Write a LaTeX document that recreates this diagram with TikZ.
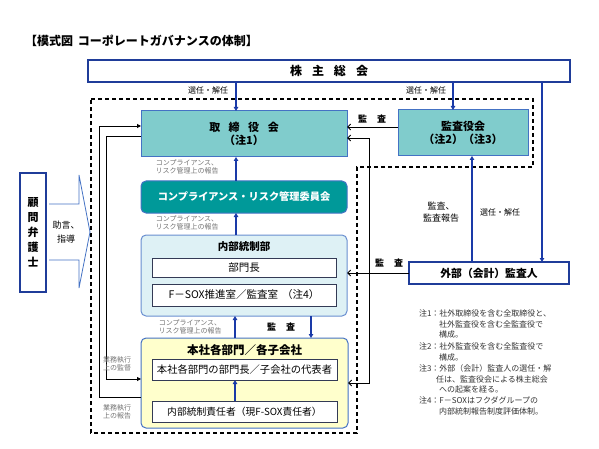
\documentclass[tikz,border=0pt]{standalone}
\usepackage{fontspec}
\setmainfont{Noto Sans CJK JP}
\usetikzlibrary{arrows.meta}
\definecolor{dkblue}{HTML}{1F3C99}
\definecolor{midblue}{HTML}{4472C4}
\definecolor{tealL}{HTML}{80CCCC}
\definecolor{tealD}{HTML}{009999}
\definecolor{cyanL}{HTML}{DEF1F5}
\definecolor{yelL}{HTML}{FFFFCC}
\definecolor{arrblue}{HTML}{1A3AA8}
\definecolor{inframe}{HTML}{333A55}
\begin{document}
\begin{tikzpicture}[x=1pt,y=-1pt,
  every node/.style={inner sep=0pt, outer sep=0pt},
  thickbox/.style={draw=dkblue, line width=2pt, fill=white},
  tealbox/.style={draw=midblue, line width=1pt, fill=tealL},
  inbox/.style={draw=inframe, line width=0.9pt, fill=white},
  barr/.style={draw=arrblue, line width=1.3pt, -{Triangle[length=4pt,width=4.5pt]}},
  karr/.style={draw=black, line width=0.9pt, -{Straight Barb[length=3pt,width=6pt]}},
  larr/.style={draw=black, line width=0.9pt, -{Triangle[length=4pt,width=4pt]}},
  glab/.style={text=black!55, font=\fontsize{7}{8.5}\selectfont, align=center},
  lab/.style={font=\fontsize{8}{9}\selectfont, align=center},
  klab/.style={font=\bfseries\fontsize{9}{11}\selectfont, align=center},
  bigtxt/.style={font=\bfseries\fontsize{11}{13}\selectfont, align=center}
]
\useasboundingbox (0,0) rectangle (599,449);

% title
\node[anchor=west, font=\bfseries\fontsize{12}{14}\selectfont] (title) at (25,41) {【模式図\hspace{5pt}コーポレートガバナンスの体制】};

% dashed frame
\draw[line width=1.2pt, dash pattern=on 4pt off 3pt] (91,99) -- (533,99) -- (533,167) -- (357,167) -- (357,433) -- (91,433) -- cycle;

% main boxes
\node[thickbox, minimum width=482pt, minimum height=22pt, font=\bfseries\fontsize{12}{14}\selectfont] (kabu) at (329,71) {株\hspace{10pt}主\hspace{10pt}総\hspace{10pt}会};

\node[tealbox, minimum width=206pt, minimum height=46pt, bigtxt] (tori) at (244,134) {取\hspace{8.5pt}締\hspace{8.5pt}役\hspace{8.5pt}会\\（注1）};

\node[tealbox, minimum width=130pt, minimum height=46pt, bigtxt] (kansa) at (463,133) {監査役会\\（注2）（注3）};

\node[draw=midblue, line width=1pt, fill=tealD, rounded corners=5pt, minimum width=206pt, minimum height=32pt, text=white, font=\bfseries\fontsize{10.2}{12}\selectfont] (comp) at (244,197) {コンプライアンス・リスク管理委員会};

\node[draw=midblue!80, line width=1pt, fill=cyanL, rounded corners=5pt, minimum width=206pt, minimum height=81pt] (naibu) at (244,275.5) {};
\node[font=\bfseries\fontsize{10.5}{12}\selectfont] (naibut) at (244,247) {内部統制部};
\node[inbox, minimum width=184pt, minimum height=19pt, font=\fontsize{10.5}{12}\selectfont] (buchou) at (244,267.5) {部門長};
\node[inbox, minimum width=184pt, minimum height=22pt, font=\fontsize{10.5}{12}\selectfont] (fsox) at (244,295) {F－SOX推進室／監査室\hspace{4pt}（注4）};

\node[draw=midblue, line width=1pt, fill=yelL, rounded corners=5pt, minimum width=207pt, minimum height=90pt] (honsha) at (244.5,383) {};
\node[font=\bfseries\fontsize{11.5}{13}\selectfont] (honshat) at (244.5,350) {本社各部門／各子会社};
\node[inbox, minimum width=185pt, minimum height=21pt, font=\fontsize{10.3}{12}\selectfont] (hbox1) at (244.5,369.5) {本社各部門の部門長／子会社の代表者};
\node[inbox, minimum width=185pt, minimum height=21pt, font=\fontsize{9.8}{12}\selectfont] (hbox2) at (244.5,411.5) {内部統制責任者（現F-SOX責任者）};

\node[thickbox, minimum width=160pt, minimum height=22pt, font=\bfseries\fontsize{10.8}{12}\selectfont] (gaibu) at (489,273) {外部（会計）監査人};

\node[thickbox, minimum width=26pt, minimum height=119pt, font=\bfseries\fontsize{11}{15}\selectfont, align=center] (komon) at (33,232.5) {顧\\問\\弁\\護\\士};

% block arrow (advice)
\draw[draw=midblue, line width=0.8pt, fill=white] (49,204) -- (79,204) -- (79,175) -- (90,232) -- (79,288) -- (79,260) -- (49,260);
\node[lab, font=\fontsize{9}{14}\selectfont] (jogen) at (66,232) {助言、\\指導};

% blue arrows from shareholders
\draw[barr] ([xshift=-8pt]tori.north |- kabu.south) -- ([xshift=-8pt]tori.north);
\node[lab, anchor=east] (l1) at (228,90) {選任・解任};
\draw[barr] ([xshift=-10pt]kansa.north |- kabu.south) -- ([xshift=-10pt]kansa.north);
\node[lab, anchor=east] (l2) at (446,90) {選任・解任};
\draw[barr] ([xshift=53pt]gaibu.north |- kabu.south) -- ([xshift=53pt]gaibu.north);

% external auditor to audit board
\draw[barr] ([xshift=-17pt]gaibu.north) -- ([xshift=-17pt]gaibu.north |- kansa.south);
\node[lab, font=\fontsize{9}{12}\selectfont] (l3) at (441,212) {監査、\\監査報告};
\node[lab] (l4) at (500,212) {選任・解任};

% audit board -> board
\draw[karr] ([yshift=6pt]kansa.west) -- ([yshift=6pt]kansa.west -| tori.east);
\node[klab] (l5) at (372,119) {監\hspace{10pt}査};

% audit board line to honsha and board
\draw[karr, {Straight Barb[length=3pt,width=6pt]}-{Straight Barb[length=3pt,width=6pt]}] ([yshift=-4pt]tori.east) -- ++(22,0) |- (honsha.east);

% external auditor -> naibu
\draw[karr] (gaibu.west) -- (gaibu.west -| naibu.east);
\node[klab] (l6) at (389,263) {監\hspace{10pt}査};

% compliance chain
\draw[barr] ([xshift=-8pt]comp.north) -- ([xshift=-8pt]tori.south);
\node[glab] (g1) at (187,167) {コンプライアンス、\\リスク管理上の報告};
\draw[barr] ([xshift=-8pt]naibu.north) -- ([xshift=-8pt]comp.south);
\node[glab] (g2) at (187,223) {コンプライアンス、\\リスク管理上の報告};
\draw[barr] ([xshift=-9.5pt]honsha.north) -- ([xshift=-9.5pt]honsha.north |- naibu.south);
\node[glab] (g3) at (190,327) {コンプライアンス、\\リスク管理上の報告};
\draw[barr] ([xshift=66.5pt]honsha.north |- naibu.south) -- ([xshift=66.5pt]honsha.north);
\node[klab] (l7) at (281,327) {監\hspace{10pt}査};
\draw[barr] ([xshift=-9.5pt]hbox2.north) -- ([xshift=-9.5pt]hbox1.south);

% left supervision / reporting lines
\draw[larr] ([yshift=-2pt]tori.west) -- ++(-35,0) |- ([yshift=4pt]honsha.west);
\node[glab] (g4) at (117,364) {業務執行\\上の監督};
\draw[larr] ([yshift=-14pt]honsha.west) -- ++(-42,0) |- ([yshift=8pt]tori.west);
\node[glab] (g5) at (117,412) {業務執行\\上の報告};

% notes
\node[anchor=north west, align=left, text=black!80, font=\fontsize{8}{10.4}\selectfont] (notes) at (419,310) {注1：社外取締役を含む全取締役と、\\
\hspace*{20pt}社外監査役を含む全監査役で\\
\hspace*{20pt}構成。\\[2pt]
注2：社外監査役を含む全監査役で\\
\hspace*{20pt}構成。\\[1pt]
注3：外部（会計）監査人の選任・解\\
\hspace*{17pt}任は、監査役会による株主総会\\
\hspace*{20pt}への起案を経る。\\[1pt]
注4：F－SOXはフクダグループの\\
\hspace*{20pt}内部統制報告制度評価体制。};
\end{tikzpicture}
\end{document}
